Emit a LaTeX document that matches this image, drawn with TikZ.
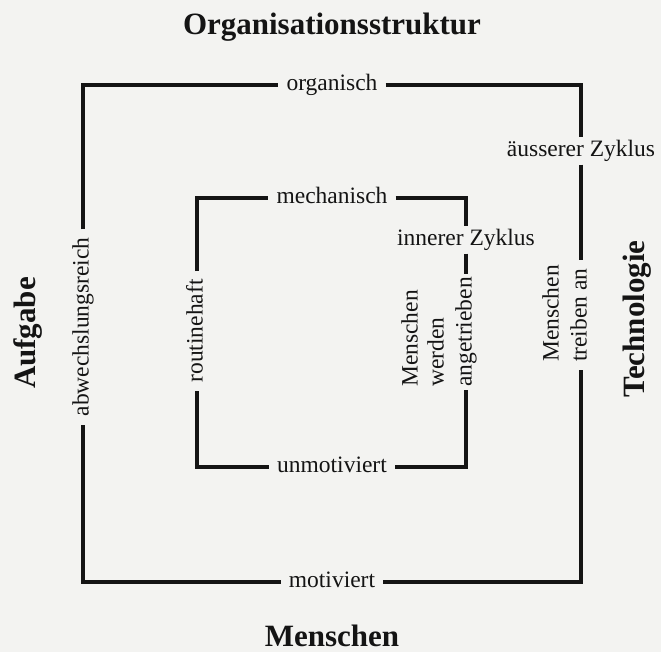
\documentclass[tikz,border=0pt]{standalone}
\usepackage{fontspec}
\setmainfont{Liberation Serif}
\definecolor{paper}{HTML}{F3F3F1}
\definecolor{ink}{HTML}{141414}
\begin{document}
\begin{tikzpicture}[x=1pt,y=-1pt,
  frame/.style={line width=3.2pt, draw=ink, line join=miter},
  lbl/.style={font=\fontsize{23.5}{28}\selectfont, text=ink, inner xsep=8pt, inner ysep=4pt, text height=16pt, text depth=5pt},
  vlbl/.style={lbl, rotate=90},
  tight/.style={inner xsep=5pt},
  title/.style={font=\fontsize{31}{36}\selectfont\bfseries, text=ink, inner sep=0pt},
]
\fill[paper] (0,0) rectangle (661,652);
\useasboundingbox (0,0) rectangle (661,652);

% titles
\node[title, anchor=base] (torg) at (332,35) {Organisationsstruktur};
\node[title, anchor=base] (tmen) at (332,646) {Menschen};
\node[title, rotate=90] (tauf) at (28,333) {Aufgabe};
\node[title, rotate=90] (ttech) at (637,319) {Technologie};

% outer cycle
\coordinate (oTL) at (83,85);
\coordinate (oTR) at (581,85);
\coordinate (oBR) at (581,582);
\coordinate (oBL) at (83,582);
\node[lbl] (org) at (332,85) {organisch};
\node[lbl] (mot) at (332,582) {motiviert};
\node[vlbl] (abw) at (83,327) {abwechslungsreich};
\node[lbl, inner ysep=3pt] (aez) at (581,151) {äusserer Zyklus};
\node[vlbl, anchor=west] (treib) at (581,370) {treiben an};
\node[vlbl, anchor=west] (omen) at (553,370) {Menschen};

\draw[frame] (org) -- (oTR) -- (aez);
\draw[frame] (aez) -- (treib);
\draw[frame] (treib) -- (oBR) -- (mot);
\draw[frame] (mot) -- (oBL) -- (abw);
\draw[frame] (abw) -- (oTL) -- (org);

% inner cycle
\coordinate (iTL) at (197,198);
\coordinate (iTR) at (466,198);
\coordinate (iBR) at (466,467);
\coordinate (iBL) at (197,467);
\node[lbl] (mech) at (332,198) {mechanisch};
\node[lbl] (unm) at (332,467) {unmotiviert};
\node[vlbl] (rout) at (197,331) {routinehaft};
\node[lbl, inner ysep=3pt] (inz) at (466,240) {innerer Zyklus};
\node[vlbl, tight, inner xsep=3pt, anchor=west] (ang) at (466,390) {angetrieben};
\node[vlbl, tight, anchor=west] (wer) at (438,392) {werden};
\node[vlbl, tight, anchor=west] (imen) at (412,392) {Menschen};

\draw[frame] (mech) -- (iTR) -- (inz);
\draw[frame] (inz) -- (ang);
\draw[frame] (ang) -- (iBR) -- (unm);
\draw[frame] (unm) -- (iBL) -- (rout);
\draw[frame] (rout) -- (iTL) -- (mech);
\end{tikzpicture}
\end{document}
